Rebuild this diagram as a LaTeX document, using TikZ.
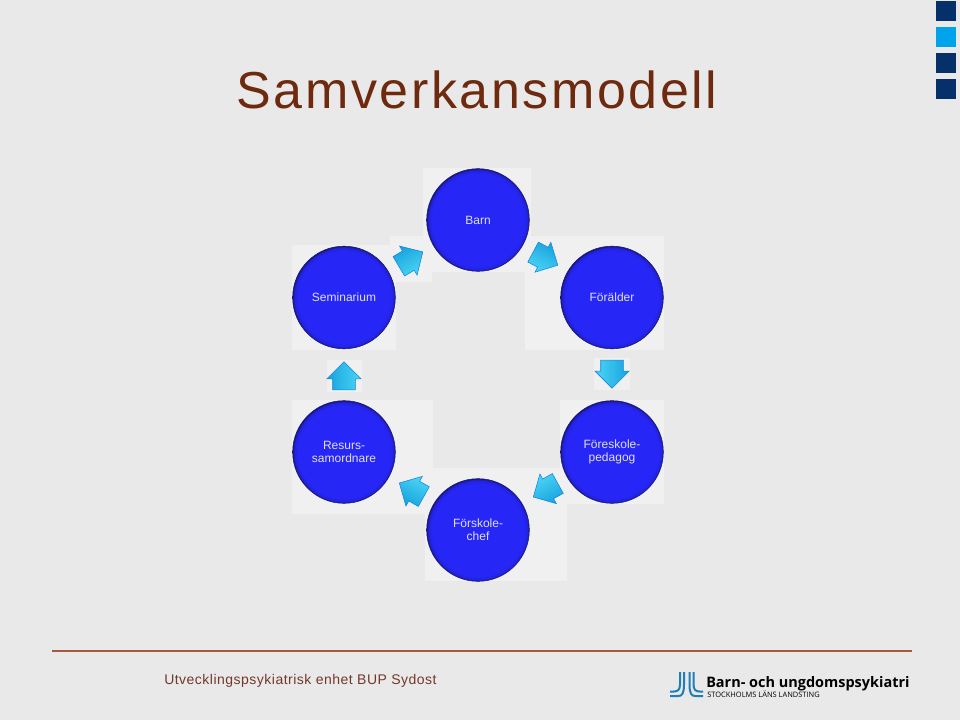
\documentclass[tikz,border=0pt]{standalone}
\usepackage{fontspec}
\setmainfont{Liberation Sans}
\newfontfamily\logofont{Open Sans}
\usepackage{tikz}
\usetikzlibrary{shapes.arrows}
\definecolor{pagegrey}{HTML}{E9E9E9}
\definecolor{patchgrey}{HTML}{F0F0F0}
\definecolor{titlebrown}{HTML}{6E2A0E}
\definecolor{rulebrown}{HTML}{A5593F}
\definecolor{footbrown}{HTML}{74382A}
\definecolor{navysq}{HTML}{06306A}
\definecolor{skysq}{HTML}{00A4EC}
\definecolor{logoblue}{HTML}{1F7DB8}
\definecolor{discblue}{HTML}{2626F6}
\definecolor{discrim}{HTML}{16167C}
\definecolor{flowdark}{HTML}{18A4DC}
\definecolor{flowlight}{HTML}{4AD4F6}
\pgfdeclareradialshading{discshade}{\pgfpoint{0bp}{0bp}}{color(0bp)=(discblue);color(22.5bp)=(discblue);color(24.3bp)=(discblue!75!discrim);color(25bp)=(discrim);color(50bp)=(discrim)}
\tikzset{
	disc/.style={circle, draw=discrim, thin, shading=discshade, minimum size=77pt, inner sep=0pt, text=white!88!blue, align=center, font=\fontsize{9}{9.9}\selectfont},
	flow/.style={single arrow, minimum height=21pt, inner xsep=0pt, inner ysep=8.25pt, single arrow head extend=4.25pt, draw=flowdark!80!blue, thin, top color=flowdark, bottom color=flowlight, shading angle=#1, rotate=#1},
	patch/.style={fill=patchgrey, draw=none},
	corner/.style={minimum size=15pt, inner sep=0pt, draw=none}
}
\begin{document}
\begin{tikzpicture}[x=0.75pt, y=-0.75pt]
	\useasboundingbox (0,0) rectangle (960,720);
	\fill[pagegrey] (0,0) rectangle (960,720);
	% Patches
	\foreach \xa/\ya/\xb/\yb in {423/168/531/272, 292/245/396/350, 390/236/432/282, 525/236/664/350, 327/360/362/392, 594/358/630/390, 292/400/433/514, 560/400/664/504, 533/468/567/504, 425/468/567/581} {
		\fill[patch] (\xa,\ya) rectangle (\xb,\yb);
	}
	% Title
	\node[text=titlebrown, font=\fontsize{39}{39}\selectfont, anchor=base] (title) at (477,109) {\addfontfeature{LetterSpace=5}Samverkansmodell};
	% Corner squares
	\foreach \i/\y/\c in {1/11/navysq, 2/37/skysq, 3/63/navysq, 4/89/navysq} {
		\node[corner, fill=\c] (square\i) at (946,\y) {};
	}
	% Discs
	\node[disc] (barn) at (478,220) {Barn};
	\node[disc] (seminarium) at (344,297.5) {Seminarium};
	\node[disc] (foralder) at (612,297.5) {Förälder};
	\node[disc] (resurs) at (344,452) {Resurs-\\samordnare};
	\node[disc] (pedagog) at (612,452) {Föreskole-\\pedagog};
	\node[disc] (chef) at (478,530) {Förskole-\\chef};
	% Arrows
	\node[flow=31] (arrow1) at (406,262) {};
	\node[flow=-28] (arrow2) at (540.5,256) {};
	\node[flow=-90] (arrow3) at (612,368.5) {};
	\node[flow=-151] (arrow4) at (550.5,487.5) {};
	\node[flow=151] (arrow5) at (416.5,492.5) {};
	\node[flow=90] (arrow6) at (344,381.5) {};
	% Footer
	\draw[rulebrown, line width=0.9pt] (52,651) -- (912,651);
	\node[text=footbrown, font=\fontsize{10.5}{10.5}\selectfont, anchor=base west, inner sep=0pt] (footer) at (164,684) {\addfontfeature{LetterSpace=3.5}Utvecklingspsykiatrisk enhet BUP Sydost};
	% Logo
	\foreach \xa/\xb/\yb in {680/670/691.5, 684/670/696} {
		\draw[logoblue, line width=1.5pt] (\xa,672) -- (\xa,684) .. controls (\xa,\yb-2) and (\xa-2,\yb) .. (\xa-6,\yb) -- (\xb,\yb);
	}
	\foreach \xa/\xb/\yb in {693.5/703/691.5, 689.5/703/696} {
		\draw[logoblue, line width=1.5pt] (\xa,672) -- (\xa,684) .. controls (\xa,\yb-2) and (\xa+2,\yb) .. (\xa+6,\yb) -- (\xb,\yb);
	}
	\node[font=\logofont\bfseries\fontsize{10.85}{10.85}\selectfont, anchor=base west, inner sep=0pt] (logotext) at (706,687) {Barn- och ungdomspsykiatri};
	\node[font=\logofont\fontsize{5.6}{5.6}\selectfont, anchor=base west, inner sep=0pt] (logosub) at (707,697) {STOCKHOLMS LÄNS LANDSTING};
\end{tikzpicture}
\end{document}
